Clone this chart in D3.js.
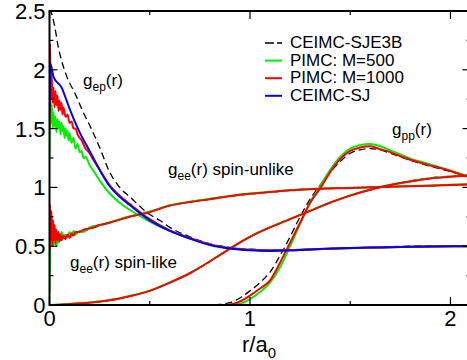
<!DOCTYPE html>
<html>
<head>
<meta charset="utf-8">
<script src="https://cdn.jsdelivr.net/npm/d3@7"></script>
<style>
  body { margin: 0; background: white; }
  text { font-family: "Liberation Sans", Arial, sans-serif; fill: black; }
</style>
</head>
<body>
<script>
var width = 467;
var height = 360;
var margin = {left: 49.5, top: 11, bottom: 55};
var plotRight = 470.5;

var xTicks = [0, 1, 2];
var xMinor = [0.5, 1.5];
var yTicks = [0, 0.5, 1, 1.5, 2, 2.5];
var yTickLabels = ["0", "0.5", "1", "1.5", "2", "2.5"];
var yMinor = [0.25, 0.75, 1.25, 1.75, 2.25];

var seriesNames = ["CEIMC-SJE3B", "PIMC: M=500", "PIMC: M=1000", "CEIMC-SJ"];
var seriesColors = ["#000000", "#00ee00", "#ff0000", "#0000ff"];

// g_ep(r)
var gepSJE3B = [[0,2.52],[0.012,2.47],[0.027,2.36],[0.043,2.2],[0.06,2.08],[0.087,1.94],[0.127,1.8],[0.168,1.64],[0.2,1.53],[0.25,1.34],[0.3,1.13],[0.35,1.0],[0.4,0.92],[0.5,0.77],[0.55,0.72],[0.6,0.66],[0.7,0.58],[0.8,0.52],[0.9,0.49],[1.0,0.475],[1.1,0.47],[1.2,0.47],[1.4,0.48],[1.6,0.49],[1.8,0.5],[2.1,0.505]];
var gepSJ = [[0,1.65],[0.005,2.05],[0.02,1.94],[0.06,1.85],[0.085,1.74],[0.1,1.67],[0.15,1.47],[0.2,1.31],[0.25,1.15],[0.3,1.01],[0.35,0.92],[0.4,0.85],[0.5,0.72],[0.6,0.63],[0.7,0.565],[0.8,0.51],[0.9,0.48],[1.0,0.465],[1.1,0.46],[1.2,0.463],[1.33,0.475],[1.5,0.485],[1.66,0.49],[1.8,0.495],[2.1,0.5]];
var gepM500 = [[0,1.25],[0.004,1.78],[0.008,1.55],[0.012,1.7],[0.016,1.5],[0.02,1.64],[0.025,1.52],[0.03,1.6],[0.035,1.47],[0.04,1.58],[0.045,1.5],[0.05,1.56],[0.055,1.45],[0.06,1.55],[0.065,1.48],[0.07,1.52],[0.075,1.42],[0.08,1.5],[0.085,1.44],[0.09,1.48],[0.095,1.4],[0.1,1.46],[0.11,1.38],[0.12,1.42],[0.13,1.33],[0.14,1.37],[0.15,1.3],[0.16,1.31],[0.17,1.25],[0.18,1.26],[0.2,1.19],[0.22,1.14],[0.25,1.06],[0.28,0.99],[0.3,0.95],[0.35,0.87],[0.4,0.81],[0.5,0.71],[0.6,0.63],[0.7,0.565],[0.8,0.515],[0.9,0.485],[1.0,0.47],[1.1,0.465],[1.2,0.467],[1.4,0.478],[1.6,0.487],[1.8,0.495],[2.1,0.5]];
var gepM1000 = [[0,1.5],[0.003,2.22],[0.006,1.75],[0.01,2.0],[0.015,1.72],[0.02,1.85],[0.025,1.68],[0.03,1.82],[0.035,1.7],[0.04,1.78],[0.045,1.65],[0.05,1.74],[0.055,1.66],[0.06,1.72],[0.065,1.62],[0.07,1.68],[0.08,1.6],[0.09,1.62],[0.1,1.55],[0.11,1.56],[0.12,1.5],[0.13,1.5],[0.14,1.45],[0.16,1.4],[0.18,1.33],[0.2,1.29],[0.22,1.23],[0.25,1.15],[0.3,1.02],[0.35,0.93],[0.4,0.86],[0.5,0.73],[0.6,0.635],[0.7,0.57],[0.8,0.515],[0.9,0.485],[1.0,0.47],[1.1,0.465],[1.2,0.467],[1.4,0.478],[1.6,0.488],[1.8,0.496],[2.1,0.5]];

// g_ee(r) spin-unlike
var geeUnlikeSJE3B = [[0,0.55],[0.1,0.59],[0.2,0.645],[0.3,0.7],[0.4,0.75],[0.5,0.79],[0.6,0.845],[0.7,0.875],[0.8,0.9],[0.9,0.925],[1.0,0.945],[1.1,0.96],[1.2,0.975],[1.3,0.985],[1.5,0.995],[1.7,1.005],[1.9,1.015],[2.1,1.025]];
var geeUnlikeM500 = [[0,0.1],[0.003,0.45],[0.006,0.75],[0.01,0.52],[0.014,0.66],[0.018,0.5],[0.022,0.62],[0.026,0.52],[0.03,0.6],[0.035,0.5],[0.04,0.58],[0.045,0.53],[0.05,0.6],[0.055,0.55],[0.06,0.62],[0.07,0.57],[0.08,0.6],[0.09,0.58],[0.1,0.62],[0.11,0.58],[0.12,0.63],[0.13,0.6],[0.15,0.63],[0.17,0.62],[0.2,0.66],[0.25,0.68],[0.3,0.705],[0.4,0.755],[0.5,0.795],[0.6,0.848],[0.7,0.878],[0.8,0.903],[0.9,0.928],[1.0,0.948],[1.1,0.962],[1.2,0.977],[1.3,0.987],[1.5,0.997],[1.7,1.007],[1.9,1.017],[2.1,1.027]];
var geeUnlikeM1000 = [[0,0.45],[0.003,0.85],[0.006,0.55],[0.01,0.8],[0.014,0.5],[0.018,0.72],[0.022,0.55],[0.026,0.68],[0.03,0.52],[0.035,0.64],[0.04,0.55],[0.045,0.62],[0.05,0.54],[0.055,0.6],[0.06,0.55],[0.07,0.59],[0.08,0.56],[0.09,0.6],[0.1,0.57],[0.11,0.61],[0.12,0.59],[0.13,0.62],[0.15,0.62],[0.17,0.64],[0.2,0.65],[0.25,0.68],[0.3,0.7],[0.4,0.75],[0.5,0.79],[0.6,0.845],[0.7,0.875],[0.8,0.9],[0.9,0.925],[1.0,0.945],[1.1,0.96],[1.2,0.975],[1.3,0.985],[1.5,0.995],[1.7,1.005],[1.9,1.015],[2.1,1.025]];

// g_ee(r) spin-like
var geeLikeSJE3B = [[0,0],[0.05,0.003],[0.1,0.008],[0.2,0.02],[0.3,0.04],[0.4,0.075],[0.5,0.12],[0.6,0.19],[0.7,0.27],[0.8,0.37],[0.9,0.48],[1.0,0.58],[1.1,0.66],[1.2,0.73],[1.3,0.8],[1.4,0.87],[1.5,0.93],[1.6,0.98],[1.7,1.02],[1.8,1.055],[1.9,1.08],[2.0,1.095],[2.1,1.105]];
var geeLikeM500 = [[0,0],[0.05,0.004],[0.1,0.009],[0.2,0.021],[0.3,0.042],[0.4,0.077],[0.5,0.122],[0.6,0.192],[0.7,0.272],[0.8,0.372],[0.9,0.482],[1.0,0.582],[1.1,0.662],[1.2,0.732],[1.3,0.802],[1.4,0.872],[1.5,0.932],[1.6,0.982],[1.7,1.022],[1.8,1.052],[1.9,1.077],[2.0,1.092],[2.1,1.102]];
var geeLikeM1000 = [[0,0],[0.05,0.003],[0.1,0.008],[0.2,0.02],[0.3,0.04],[0.4,0.075],[0.5,0.12],[0.6,0.19],[0.7,0.27],[0.8,0.37],[0.9,0.48],[1.0,0.58],[1.1,0.66],[1.2,0.73],[1.3,0.8],[1.4,0.87],[1.5,0.93],[1.6,0.98],[1.7,1.02],[1.8,1.05],[1.9,1.075],[2.0,1.09],[2.1,1.1]];

// g_pp(r)
var gppSJE3B = [[0,0],[0.8,0],[0.85,0.005],[0.9,0.02],[0.95,0.06],[1.0,0.12],[1.05,0.19],[1.1,0.28],[1.15,0.42],[1.2,0.58],[1.25,0.75],[1.3,0.9],[1.35,1.02],[1.4,1.13],[1.45,1.22],[1.5,1.29],[1.55,1.32],[1.6,1.33],[1.65,1.32],[1.7,1.29],[1.8,1.23],[1.9,1.18],[2.0,1.135],[2.1,1.09]];
var gppM500 = [[0,0],[0.9,0],[0.95,0.01],[1.0,0.05],[1.05,0.11],[1.1,0.19],[1.15,0.32],[1.2,0.5],[1.25,0.69],[1.3,0.87],[1.35,1.01],[1.4,1.15],[1.45,1.26],[1.5,1.33],[1.55,1.36],[1.6,1.37],[1.65,1.35],[1.7,1.315],[1.75,1.28],[1.8,1.245],[1.85,1.22],[1.9,1.195],[1.95,1.17],[2.0,1.145],[2.05,1.115],[2.1,1.09]];
var gppM1000 = [[0,0],[0.85,0],[0.9,0.005],[0.95,0.03],[1.0,0.08],[1.05,0.14],[1.1,0.21],[1.15,0.36],[1.2,0.53],[1.25,0.7],[1.3,0.87],[1.35,0.99],[1.4,1.13],[1.45,1.24],[1.5,1.31],[1.55,1.34],[1.6,1.35],[1.65,1.325],[1.7,1.3],[1.75,1.265],[1.8,1.235],[1.85,1.21],[1.9,1.185],[1.95,1.165],[2.0,1.14],[2.05,1.11],[2.1,1.085]];

var dashedCurves = [gepSJE3B, geeUnlikeSJE3B, geeLikeSJE3B, gppSJE3B];
var greenCurves = [gepM500, geeUnlikeM500, geeLikeM500, gppM500];
var redCurves = [gepM1000, geeUnlikeM1000, geeLikeM1000, gppM1000];
var blueCurves = [gepSJ];

var xScale = d3.scaleLinear()
               .domain([0, 2.1])
               .range([margin.left, plotRight]);

var yScale = d3.scaleLinear()
               .domain([0, 2.5])
               .range([height - margin.bottom, margin.top]);

const SVG = d3.select("body")
              .append("svg")
              .attr("width", width)
              .attr("height", height)
              .style("background-color", "white");

SVG.append("clipPath")
   .attr("id", "plotclip")
   .append("rect")
   .attr("x", xScale(0))
   .attr("y", yScale(2.5))
   .attr("width", xScale(2.1) - xScale(0))
   .attr("height", yScale(0) - yScale(2.5));

var line = d3.line()
             .x((d) => xScale(d[0]))
             .y((d) => yScale(d[1]))
             .curve(d3.curveMonotoneX);

var curves = SVG.append("g").attr("clip-path", "url(#plotclip)");

curves.selectAll(".dashed")
      .data(dashedCurves).enter()
      .append("path")
      .attr("d", line)
      .attr("fill", "none")
      .attr("stroke", seriesColors[0])
      .attr("stroke-width", 1.3)
      .attr("stroke-dasharray", "7,4");

curves.selectAll(".green")
      .data(greenCurves).enter()
      .append("path")
      .attr("d", line)
      .attr("fill", "none")
      .attr("stroke", seriesColors[1])
      .attr("stroke-width", 2);

curves.selectAll(".red")
      .data(redCurves).enter()
      .append("path")
      .attr("d", line)
      .attr("fill", "none")
      .attr("stroke", seriesColors[2])
      .attr("stroke-width", 2);

curves.selectAll(".blue")
      .data(blueCurves).enter()
      .append("path")
      .attr("d", line)
      .attr("fill", "none")
      .attr("stroke", seriesColors[3])
      .attr("stroke-width", 2);

// frame and inward ticks
var frame = SVG.append("g");
frame.append("rect")
     .attr("x", xScale(0))
     .attr("y", yScale(2.5))
     .attr("width", xScale(2.1) - xScale(0))
     .attr("height", yScale(0) - yScale(2.5))
     .attr("fill", "none")
     .attr("stroke", "black")
     .attr("stroke-width", 2);

function yTick(v, len) {
  frame.append("line").attr("x1", xScale(0)).attr("x2", xScale(0) + len)
       .attr("y1", yScale(v)).attr("y2", yScale(v)).attr("stroke", "black").attr("stroke-width", 1.2);
  frame.append("line").attr("x1", xScale(2.1)).attr("x2", xScale(2.1) - len)
       .attr("y1", yScale(v)).attr("y2", yScale(v)).attr("stroke", "black").attr("stroke-width", 1.2);
}
function xTick(v, len) {
  frame.append("line").attr("x1", xScale(v)).attr("x2", xScale(v))
       .attr("y1", yScale(0)).attr("y2", yScale(0) - len).attr("stroke", "black").attr("stroke-width", 1.2);
  frame.append("line").attr("x1", xScale(v)).attr("x2", xScale(v))
       .attr("y1", yScale(2.5)).attr("y2", yScale(2.5) + len).attr("stroke", "black").attr("stroke-width", 1.2);
}
yTicks.forEach((v) => yTick(v, 8));
yMinor.forEach((v) => yTick(v, 4));
xTicks.forEach((v) => xTick(v, 8));
xMinor.forEach((v) => xTick(v, 4));

SVG.selectAll(".ylabel")
   .data(yTicks).enter()
   .append("text")
   .attr("x", xScale(0) - 4)
   .attr("y", (d) => yScale(d) + 8)
   .attr("text-anchor", "end")
   .style("font-size", "22px")
   .text((d, i) => yTickLabels[i]);

SVG.selectAll(".xlabel")
   .data(xTicks).enter()
   .append("text")
   .attr("x", (d) => xScale(d))
   .attr("y", yScale(0) + 21)
   .attr("text-anchor", "middle")
   .style("font-size", "22px")
   .text((d) => d);

var xTitle = SVG.append("text")
                .attr("x", 242)
                .attr("y", 352)
                .style("font-size", "22px");
xTitle.append("tspan").text("r/a");
xTitle.append("tspan").attr("dy", 6).style("font-size", "15px").text("0");

// curve annotations
function annotate(x, y, sub, rest) {
  var t = SVG.append("text").attr("x", x).attr("y", y).style("font-size", "17px");
  t.append("tspan").text("g");
  t.append("tspan").attr("dy", 5).style("font-size", "12px").text(sub);
  t.append("tspan").attr("dy", -5).text(rest);
}
annotate(83, 86, "ep", "(r)");
annotate(168, 175, "ee", "(r) spin-unlike");
annotate(70, 268, "ee", "(r) spin-like");
annotate(392, 135, "pp", "(r)");

// legend
var legend = SVG.selectAll(".legend")
                .data(seriesNames).enter()
                .append("g")
                .attr("transform", (d, i) => "translate(265," + (48 + i * 17.6) + ")");

legend.append("line")
      .attr("x1", 0).attr("x2", 17)
      .attr("y1", -5).attr("y2", -5)
      .attr("stroke", (d, i) => seriesColors[i])
      .attr("stroke-width", (d, i) => i == 0 ? 1.3 : 2)
      .attr("stroke-dasharray", (d, i) => i == 0 ? "9,3" : null);

legend.append("text")
      .attr("x", 25)
      .attr("y", 0)
      .style("font-size", "17px")
      .text((d) => d);
</script>
</body>
</html>
